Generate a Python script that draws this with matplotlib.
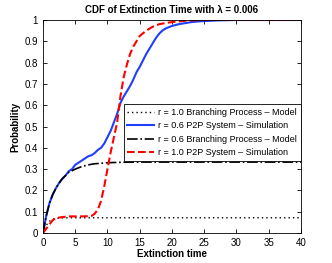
import matplotlib
matplotlib.use("Agg")
import matplotlib.pyplot as plt

plt.rcParams['font.family'] = ['Liberation Sans', 'DejaVu Sans']

title = "CDF of Extinction Time with λ = 0.006"
labels = ["r = 1.0 Branching Process – Model",
          "r = 0.6 P2P System – Simulation",
          "r = 0.6 Branching Process – Model",
          "r = 1.0 P2P System – Simulation"]

bp10_x = [0, 0.25, 0.5, 0.75, 1, 1.25, 1.5, 2, 2.5, 3, 4, 5, 40]
bp10_y = [0, 0.02, 0.035, 0.047, 0.055, 0.061, 0.065, 0.069, 0.0705, 0.071, 0.0715, 0.0716, 0.0716]

sim06_x = [0, 0.5, 1, 1.5, 2, 2.5, 3, 3.5, 4, 4.5, 5, 5.5, 6, 6.5, 7, 7.5, 8, 8.5, 9, 9.5,
           10, 10.5, 11, 11.5, 12, 12.5, 13, 13.5, 14, 14.5, 15, 15.5, 16, 16.5, 17, 17.5,
           18, 18.5, 19, 20, 21, 22, 23, 24, 25, 27, 30, 40]
sim06_y = [0, 0.08, 0.14, 0.18, 0.21, 0.235, 0.255, 0.27, 0.29, 0.30, 0.32, 0.33, 0.34, 0.35,
           0.36, 0.365, 0.375, 0.39, 0.40, 0.42, 0.45, 0.48, 0.52, 0.56, 0.61, 0.64, 0.665,
           0.69, 0.72, 0.755, 0.78, 0.81, 0.84, 0.865, 0.89, 0.915, 0.935, 0.95, 0.96, 0.972,
           0.98, 0.985, 0.99, 0.993, 0.995, 0.998, 1.0, 1.0]

bp06_x = [0, 0.5, 1, 1.5, 2, 2.5, 3, 3.5, 4, 5, 6, 7, 8, 10, 12, 15, 40]
bp06_y = [0, 0.08, 0.14, 0.18, 0.21, 0.235, 0.255, 0.27, 0.285, 0.30, 0.312, 0.32, 0.325,
          0.33, 0.332, 0.333, 0.333]

sim10_x = [0, 0.5, 1, 1.5, 2, 3, 4, 5, 6, 7, 7.5, 8, 8.5, 9, 9.5, 10, 10.5, 11, 11.5, 12,
           12.5, 13, 13.5, 14, 14.5, 15, 16, 17, 18, 19, 20, 21, 22, 23, 25, 40]
sim10_y = [0, 0.02, 0.04, 0.06, 0.07, 0.075, 0.078, 0.078, 0.078, 0.079, 0.08, 0.09, 0.11,
           0.15, 0.22, 0.30, 0.38, 0.45, 0.52, 0.64, 0.73, 0.79, 0.84, 0.875, 0.9, 0.925,
           0.95, 0.968, 0.98, 0.986, 0.99, 0.993, 0.996, 0.998, 1.0, 1.0]

fig = plt.figure(figsize=(3.32, 2.63), dpi=100)
ax = fig.add_axes([0.1295, 0.114, 0.777, 0.81])

ax.plot(bp10_x, bp10_y, color='black', linestyle=(0, (1, 2.2)), linewidth=1.0, label=labels[0])
ax.plot(sim06_x, sim06_y, color='#1f3fff', linestyle='-', linewidth=1.5, label=labels[1])
ax.plot(bp06_x, bp06_y, color='black', linestyle='-.', linewidth=1.2, label=labels[2])
ax.plot(sim10_x, sim10_y, color='#ff0000', linestyle='--', linewidth=1.5, label=labels[3])

ax.set_xlim(0, 40)
ax.set_ylim(0, 1)
ax.set_xticks(range(0, 41, 5))
ax.set_yticks([i / 10 for i in range(11)])
ax.set_yticklabels(['0', '0.1', '0.2', '0.3', '0.4', '0.5', '0.6', '0.7', '0.8', '0.9', '1'])
ax.tick_params(direction='in', top=True, right=True, labelsize=7, length=3, width=0.6)
for s in ax.spines.values():
    s.set_linewidth(0.6)

ax.set_title(title, fontsize=7, fontweight='bold', pad=5)
ax.set_xlabel("Extinction time", fontsize=7, fontweight='bold', labelpad=1)
ax.set_ylabel("Probability", fontsize=7, fontweight='bold', labelpad=3)

leg = ax.legend(loc='upper left', bbox_to_anchor=(0.313, 0.605), fontsize=6.5,
                frameon=True, fancybox=False, edgecolor='black', framealpha=1,
                borderpad=0.4, labelspacing=0.5, handlelength=3.0, handletextpad=0.45,
                borderaxespad=0)
leg.get_frame().set_linewidth(0.6)

fig.savefig("out.png", dpi=100)
